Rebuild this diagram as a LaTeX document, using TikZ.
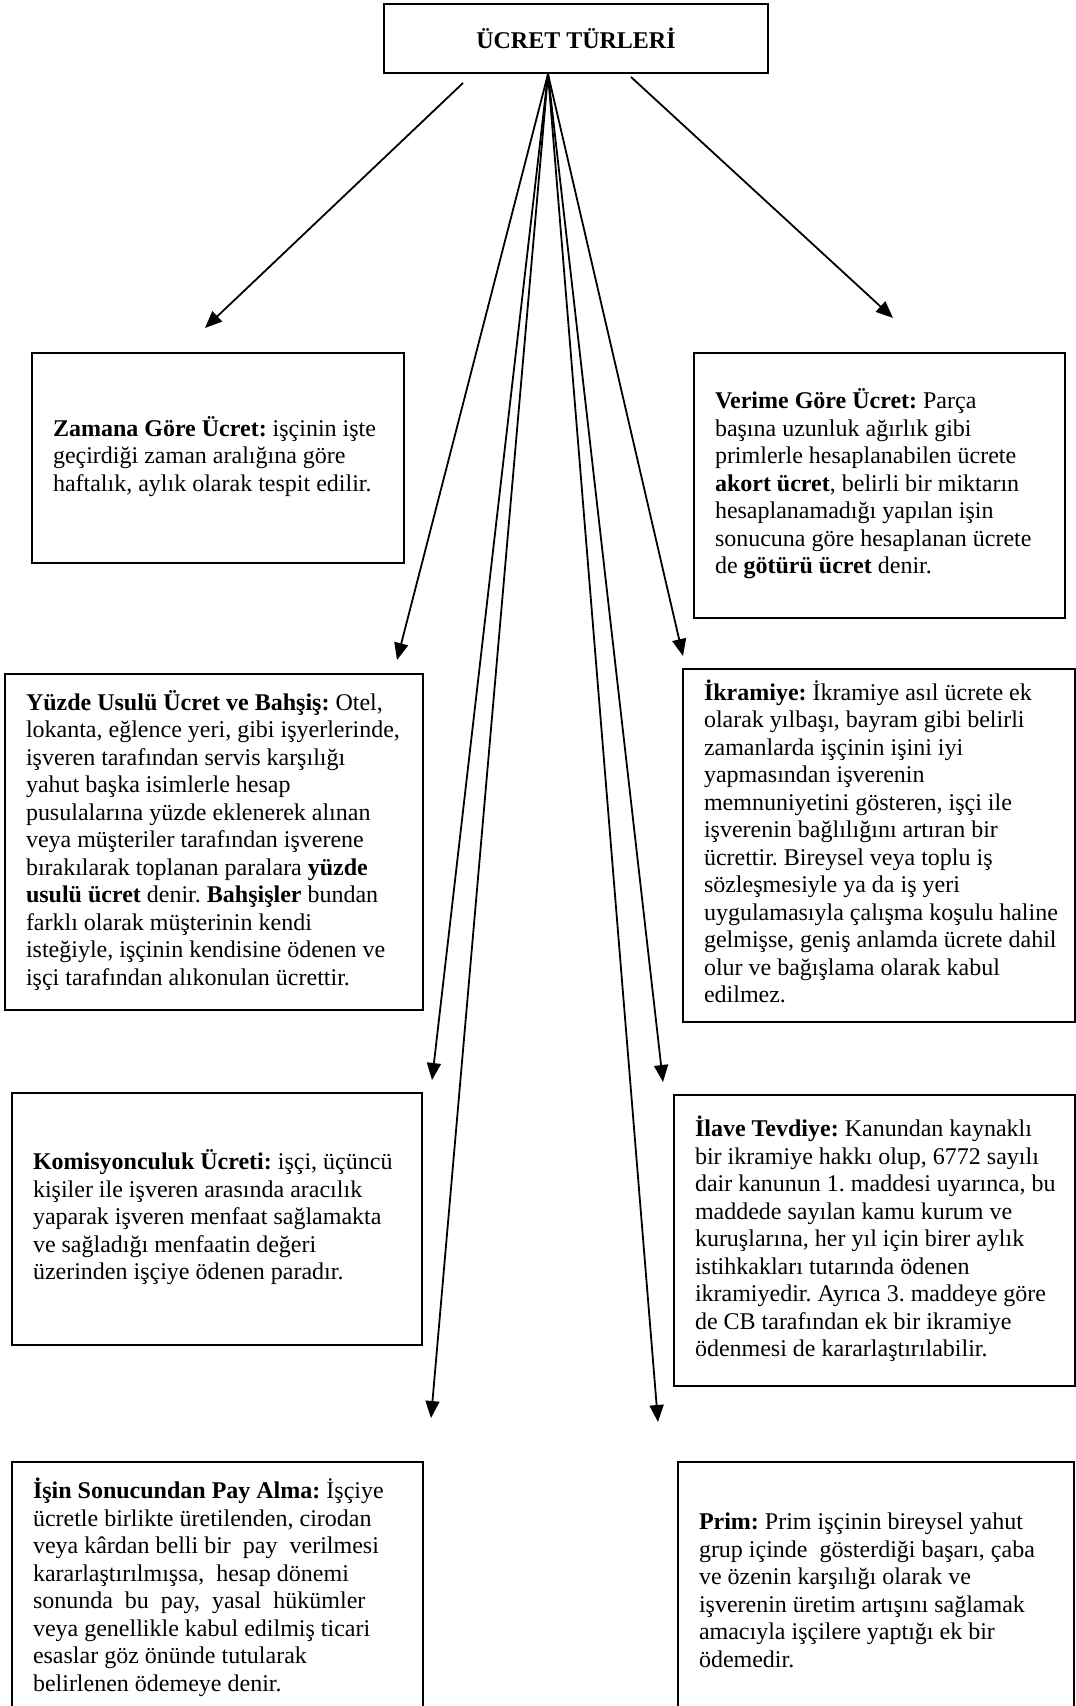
\documentclass[tikz,border=0pt]{standalone}
\usepackage{fontspec}
\setmainfont{Liberation Serif}
\usetikzlibrary{arrows.meta}
\newcommand{\bodyfnt}{\fontsize{24pt}{27.5pt}\selectfont\frenchspacing}
\newcommand{\boxtext}[2]{\makebox[#1][l]{\begin{tabular}{@{}l@{}}#2\end{tabular}}}
\begin{document}
\begin{tikzpicture}[x=1pt,y=-1pt,
  boxnode/.style={draw, line width=2.2pt, inner xsep=21pt, inner ysep=0pt, font=\bodyfnt},
  titlenode/.style={draw, line width=2.4pt, inner sep=0pt, font=\bodyfnt\bfseries},
  conn/.style={line width=1.8pt, -{Triangle[length=17pt,width=14pt]}}]
\useasboundingbox (0,0) rectangle (1076,1706);
\clip (0,0) rectangle (1076,1706);
\fill[white] (0,0) rectangle (1076,1706);

\node[titlenode, minimum width=384pt, minimum height=69pt] (title) at (576,38.5) {ÜCRET TÜRLERİ};

\node[boxnode, minimum width=372pt, minimum height=210pt] (zamana) at (218,458)
{\boxtext{330pt}{\textbf{Zamana Göre Ücret:} işçinin işte\\
geçirdiği zaman aralığına göre\\
haftalık, aylık olarak tespit edilir.}};

\node[boxnode, minimum width=371pt, minimum height=265pt] (verime) at (879.5,485.5)
{\boxtext{329pt}{\textbf{Verime Göre Ücret:} Parça\\
başına uzunluk ağırlık gibi\\
primlerle hesaplanabilen ücrete\\
\textbf{akort ücret}, belirli bir miktarın\\
hesaplanamadığı yapılan işin\\
sonucuna göre hesaplanan ücrete\\
de \textbf{götürü ücret} denir.}};

\node[boxnode, minimum width=418pt, minimum height=336pt] (yuzde) at (214,842)
{\boxtext{376pt}{\textbf{Yüzde Usulü Ücret ve Bahşiş:} Otel,\\
lokanta, eğlence yeri, gibi işyerlerinde,\\
işveren tarafından servis karşılığı\\
yahut başka isimlerle hesap\\
pusulalarına yüzde eklenerek alınan\\
veya müşteriler tarafından işverene\\
bırakılarak toplanan paralara \textbf{yüzde}\\
\textbf{usulü ücret} denir. \textbf{Bahşişler} bundan\\
farklı olarak müşterinin kendi\\
isteğiyle, işçinin kendisine ödenen ve\\
işçi tarafından alıkonulan ücrettir.}};

\node[boxnode, minimum width=392pt, minimum height=353pt] (ikramiye) at (879,845.5)
{\boxtext{350pt}{\textbf{İkramiye:} İkramiye asıl ücrete ek\\
olarak yılbaşı, bayram gibi belirli\\
zamanlarda işçinin işini iyi\\
yapmasından işverenin\\
memnuniyetini gösteren, işçi ile\\
işverenin bağlılığını artıran bir\\
ücrettir. Bireysel veya toplu iş\\
sözleşmesiyle ya da iş yeri\\
uygulamasıyla çalışma koşulu haline\\
gelmişse, geniş anlamda ücrete dahil\\
olur ve bağışlama olarak kabul\\
edilmez.}};

\node[boxnode, minimum width=410pt, minimum height=252pt] (komisyon) at (217,1219)
{\boxtext{368pt}{\textbf{Komisyonculuk Ücreti:} işçi, üçüncü\\
kişiler ile işveren arasında aracılık\\
yaparak işveren menfaat sağlamakta\\
ve sağladığı menfaatin değeri\\
üzerinden işçiye ödenen paradır.}};

\node[boxnode, minimum width=401pt, minimum height=291pt] (ilave) at (874.5,1240.5)
{\boxtext{359pt}{\textbf{İlave Tevdiye:} Kanundan kaynaklı\\
bir ikramiye hakkı olup, 6772 sayılı\\
dair kanunun 1. maddesi uyarınca, bu\\
maddede sayılan kamu kurum ve\\
kuruşlarına, her yıl için birer aylık\\
istihkakları tutarında ödenen\\
ikramiyedir. Ayrıca 3. maddeye göre\\
de CB tarafından ek bir ikramiye\\
ödenmesi de kararlaştırılabilir.}};

\node[boxnode, minimum width=411pt, minimum height=254pt] (isin) at (217.5,1589)
{\boxtext{369pt}{\textbf{İşin Sonucundan Pay Alma:} İşçiye\\
ücretle birlikte üretilenden, cirodan\\
veya kârdan belli bir\ \ pay\ \ verilmesi\\
kararlaştırılmışsa,\ \ hesap dönemi\\
sonunda\ \ bu\ \ pay,\ \ yasal\ \ hükümler\\
veya genellikle kabul edilmiş ticari\\
esaslar göz önünde tutularak\\
belirlenen ödemeye denir.}};

\node[boxnode, minimum width=396pt, minimum height=262pt] (prim) at (876,1593)
{\boxtext{354pt}{\textbf{Prim:} Prim işçinin bireysel yahut\\
grup içinde\ \ gösterdiği başarı, çaba\\
ve özenin karşılığı olarak ve\\
işverenin üretim artışını sağlamak\\
amacıyla işçilere yaptığı ek bir\\
ödemedir.}};

% connector end points
\coordinate (apex) at (548,74);
\coordinate (ldstart) at (463,83);
\coordinate (rdstart) at (631,77);
\coordinate (tzamana) at (205,328);
\coordinate (tverime) at (893,318);
\coordinate (tyuzde) at (397,660);
\coordinate (tikramiye) at (683,656);
\coordinate (tkomisyon) at (432,1080);
\coordinate (tilave) at (663,1082);
\coordinate (tisin) at (431,1418);
\coordinate (tprim) at (658,1422);

\draw[conn] (ldstart) -- (tzamana);
\draw[conn] (rdstart) -- (tverime);
\draw[conn] (apex) -- (tyuzde);
\draw[conn] (apex) -- (tikramiye);
\draw[conn] (apex) -- (tkomisyon);
\draw[conn] (apex) -- (tilave);
\draw[conn] (apex) -- (tisin);
\draw[conn] (apex) -- (tprim);
\end{tikzpicture}
\end{document}
